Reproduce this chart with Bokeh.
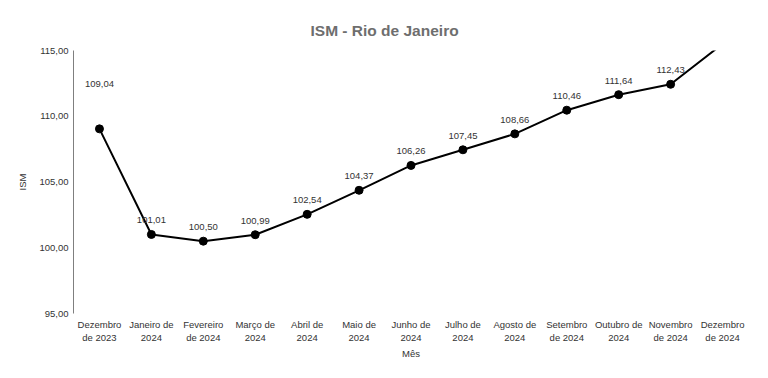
from bokeh.plotting import figure
from bokeh.models import ColumnDataSource, FixedTicker, Range1d, FactorRange
from bokeh.core.properties import value
from bokeh.embed import file_html
from bokeh.resources import INLINE

months = ["Dezembro\nde 2023", "Janeiro de\n2024", "Fevereiro\nde 2024", "Março de\n2024",
          "Abril de\n2024", "Maio de\n2024", "Junho de\n2024", "Julho de\n2024",
          "Agosto de\n2024", "Setembro\nde 2024", "Outubro de\n2024", "Novembro\nde 2024",
          "Dezembro\nde 2024"]
ism = [109.04, 101.01, 100.50, 100.99, 102.54, 104.37, 106.26, 107.45, 108.66,
       110.46, 111.64, 112.43, 115.5]
labels = ["109,04", "101,01", "100,50", "100,99", "102,54", "104,37", "106,26", "107,45",
          "108,66", "110,46", "111,64", "112,43", "115,50"]
y_ticks = [95, 100, 105, 110, 115]
y_tick_labels = ["95,00", "100,00", "105,00", "110,00", "115,00"]

FONT = "Liberation Sans"
FS = "9.5px"

src = ColumnDataSource(dict(x=months, y=ism, lab=labels))
first = ColumnDataSource(dict(x=months[:1], y=ism[:1], lab=labels[:1]))
rest = ColumnDataSource(dict(x=months[1:], y=ism[1:], lab=labels[1:]))

p = figure(frame_width=675, frame_height=263, x_range=FactorRange(*months), y_range=Range1d(95, 115),
           output_backend="svg", toolbar_location=None,
           min_border_left=73, min_border_right=14, min_border_top=50, min_border_bottom=38)

p.title.text = "ISM - Rio de Janeiro"
p.title.align = "left"
p.title.offset = 237
p.title.text_font = FONT
p.title.text_font_size = "15.5px"
p.title.text_font_style = "bold"
p.title.text_color = "#6e6e6e"
p.title.standoff = 23

p.line("x", "y", source=src, line_color="black", line_width=2)
p.scatter("x", "y", source=src, size=8, fill_color="black", line_color="black")
p.text("x", "y", text="lab", source=rest, text_font=value(FONT), text_font_size=FS,
       text_color="#333333", text_align="center", text_baseline="bottom", y_offset=-11)
p.text("x", "y", text="lab", source=first, text_font=value(FONT), text_font_size=FS,
       text_color="#333333", text_align="center", text_baseline="bottom", y_offset=-42)

p.xgrid.visible = False
p.ygrid.visible = False
p.outline_line_color = None

p.yaxis.ticker = FixedTicker(ticks=y_ticks)
p.yaxis.major_label_overrides = {t: l for t, l in zip(y_ticks, y_tick_labels)}
p.yaxis.axis_line_color = "#7f7f7f"
p.yaxis.major_tick_line_color = None
p.yaxis.minor_tick_line_color = None
p.yaxis.major_tick_out = 0
p.yaxis.major_label_standoff = 5
p.yaxis.axis_label = "ISM"

p.xaxis.axis_line_color = None
p.xaxis.major_tick_line_color = None
p.xaxis.major_tick_out = 0
p.xaxis.major_label_standoff = 5
p.xaxis.axis_label = "Mês"

for ax in (p.xaxis, p.yaxis):
    ax.major_label_text_font = FONT
    ax.major_label_text_font_size = FS
    ax.major_label_text_color = "#333333"
    ax.axis_label_text_font = FONT
    ax.axis_label_text_font_size = FS
    ax.axis_label_text_font_style = "normal"
    ax.axis_label_text_color = "#333333"

p.yaxis.axis_label_standoff = 8
p.xaxis.axis_label_standoff = 2

open("out.html", "w").write(file_html(p, INLINE))
